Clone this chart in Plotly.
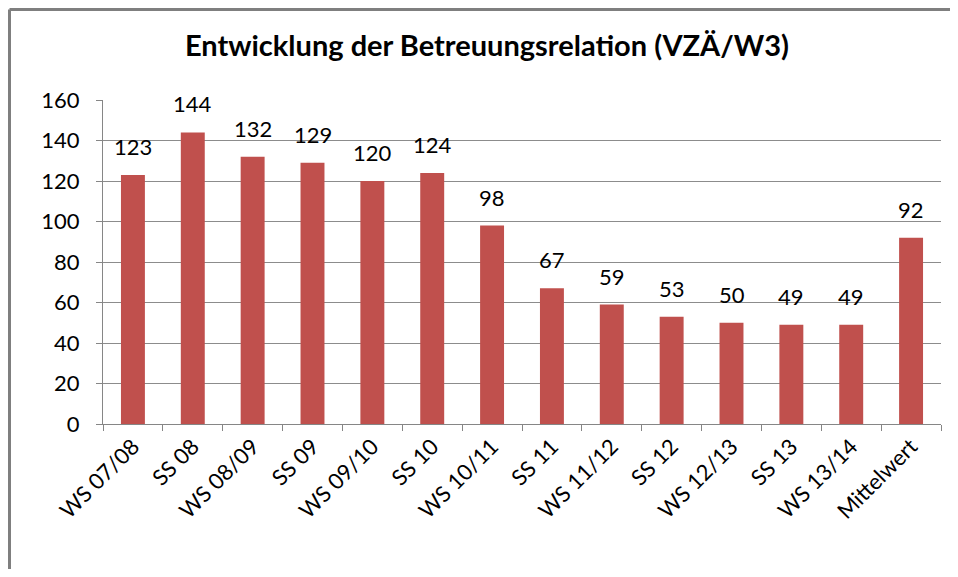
import plotly.graph_objects as go

categories = ["WS 07/08", "SS 08", "WS 08/09", "SS 09", "WS 09/10", "SS 10", "WS 10/11",
              "SS 11", "WS 11/12", "SS 12", "WS 12/13", "SS 13", "WS 13/14", "Mittelwert"]
values = [123, 144, 132, 129, 120, 124, 98, 67, 59, 53, 50, 49, 49, 92]
y_ticks = [0, 20, 40, 60, 80, 100, 120, 140, 160]
title_text = "Entwicklung der Betreuungsrelation (VZÄ/W3)"

FONT = "Lato, Carlito, 'Open Sans', sans-serif"
W, H = 942, 561
L, R, T, B = 95, 9, 92, 145
plot_w = W - L - R
plot_h = H - T - B

fig = go.Figure(go.Bar(
    x=categories, y=values,
    marker=dict(color="#C0504D", line=dict(width=0)),
))

for c, v in zip(categories, values):
    fig.add_annotation(x=c, y=v, text=str(v), showarrow=False, xanchor="center",
                       yanchor="bottom", yshift=13,
                       font=dict(family=FONT, size=22, color="#000000"))

bx0 = (1.5 - L) / plot_w
by1 = (plot_h + T - 1.5) / plot_h
fig.update_layout(
    width=W, height=H,
    paper_bgcolor="white", plot_bgcolor="white",
    margin=dict(l=L, r=R, t=T, b=B, autoexpand=False),
    bargap=0.6,
    showlegend=False,
    title=dict(text="<b>" + title_text + "</b>", x=0.5085, xanchor="center",
               y=1 - 38 / H, yanchor="middle",
               font=dict(family=FONT, size=29, color="#000000")),
    font=dict(family=FONT, size=22, color="#000000"),
    xaxis=dict(tickangle=-45, showline=True, linecolor="#868686", linewidth=1,
               ticks="outside", tickson="boundaries", ticklen=6, tickcolor="#868686",
               tickfont=dict(family=FONT, size=22, color="#000000"), showgrid=False,
               automargin=False),
    yaxis=dict(range=[0, 160], tickvals=y_ticks, showline=True, linecolor="#868686",
               linewidth=1, ticks="outside", ticklen=6, tickcolor="#868686",
               ticklabelstandoff=12,
               showgrid=True, gridcolor="#8c8c8c", gridwidth=1, zeroline=False,
               tickfont=dict(family=FONT, size=22, color="#000000"), automargin=False),
    shapes=[
        dict(type="line", xref="paper", yref="paper", x0=bx0, x1=(W - L) / plot_w,
             y0=by1, y1=by1, line=dict(color="#7f7f7f", width=3)),
        dict(type="line", xref="paper", yref="paper", x0=bx0, x1=bx0,
             y0=by1, y1=-B / plot_h, line=dict(color="#7f7f7f", width=3)),
    ],
)

fig.write_html("out.html")
